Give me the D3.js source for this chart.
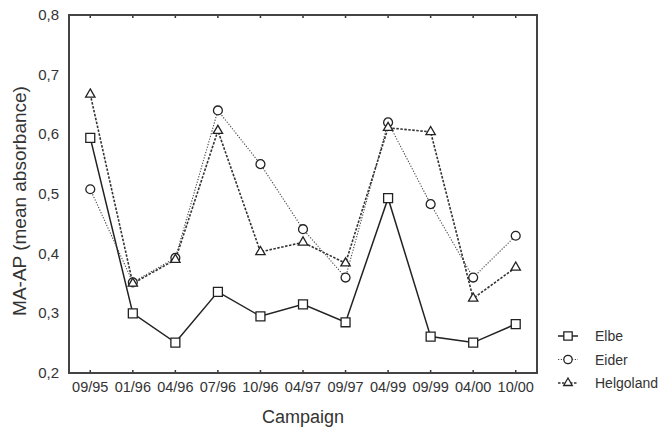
<!DOCTYPE html>
<html>
<head>
<meta charset="utf-8">
<script src="https://cdn.jsdelivr.net/npm/d3@7"></script>
<style>
  body { margin: 0; background: #fff; }
  svg text { font-family: "Liberation Sans", Arial, sans-serif; fill: #333; }
</style>
</head>
<body>
<svg id="canvas" width="659" height="430"></svg>
<script>
var campaigns = ['09/95', '01/96', '04/96', '07/96', '10/96', '04/97', '09/97', '04/99', '09/99', '04/00', '10/00'];
var elbe      = [0.594, 0.300, 0.251, 0.336, 0.295, 0.315, 0.285, 0.493, 0.261, 0.251, 0.282];
var eider     = [0.508, 0.352, 0.393, 0.640, 0.550, 0.441, 0.360, 0.620, 0.483, 0.360, 0.430];
var helgoland = [0.667, 0.350, 0.390, 0.606, 0.403, 0.419, 0.384, 0.611, 0.604, 0.325, 0.377];
var yTicks = [0.2, 0.3, 0.4, 0.5, 0.6, 0.7, 0.8];

var series = [
  {name: 'Elbe', values: elbe, symbol: d3.symbolSquare, dash: null, width: 1.5, color: '#222'},
  {name: 'Eider', values: eider, symbol: d3.symbolCircle, dash: '1.2,1.6', width: 1.1, color: '#444'},
  {name: 'Helgoland', values: helgoland, symbol: d3.symbolTriangle, dash: '2.5,1.5', width: 1.6, color: '#333'}
];

var svg = d3.select('svg#canvas');
var plotLeft = 69, plotRight = 537, plotTop = 15, plotBottom = 373;

var x = d3.scalePoint().domain(campaigns).range([plotLeft, plotRight]).padding(0.5);
var y = d3.scaleLinear().domain([0.2, 0.8]).range([plotBottom, plotTop]);

// ticks (small, inside the frame)
svg.append('g').selectAll('line')
  .data(campaigns).enter().append('line')
  .attr('x1', function(d) { return x(d); }).attr('x2', function(d) { return x(d); })
  .attr('y1', plotBottom).attr('y2', plotBottom - 3)
  .attr('stroke', '#333').attr('stroke-width', 1.5);
svg.append('g').selectAll('line')
  .data(campaigns).enter().append('line')
  .attr('x1', function(d) { return x(d); }).attr('x2', function(d) { return x(d); })
  .attr('y1', plotTop).attr('y2', plotTop + 3)
  .attr('stroke', '#333').attr('stroke-width', 1.5);

// frame
svg.append('rect')
  .attr('x', plotLeft).attr('y', plotTop)
  .attr('width', plotRight - plotLeft).attr('height', plotBottom - plotTop)
  .attr('fill', 'none').attr('stroke', '#444').attr('stroke-width', 2);

// y tick labels
svg.append('g').selectAll('text')
  .data(yTicks).enter().append('text')
  .attr('x', 59).attr('y', function(d) { return y(d) + 5; })
  .attr('text-anchor', 'end').attr('font-size', 15)
  .text(function(d) { return d3.format('.1f')(d).replace('.', ','); });

// x tick labels
svg.append('g').selectAll('text')
  .data(campaigns).enter().append('text')
  .attr('x', function(d) { return x(d); }).attr('y', 392)
  .attr('text-anchor', 'middle').attr('font-size', 14.5)
  .text(function(d) { return d; });

svg.append('text')
  .attr('x', 303).attr('y', 423)
  .attr('text-anchor', 'middle').attr('font-size', 18)
  .text('Campaign');

svg.append('text')
  .attr('transform', 'translate(26,201) rotate(-90)')
  .attr('text-anchor', 'middle').attr('font-size', 19)
  .text('MA-AP (mean absorbance)');

var line = d3.line()
  .x(function(d, i) { return x(campaigns[i]); })
  .y(function(d) { return y(d); });

series.forEach(function(s) {
  svg.append('path')
    .datum(s.values)
    .attr('d', line)
    .attr('fill', 'none')
    .attr('stroke', s.color)
    .attr('stroke-width', s.width)
    .attr('stroke-dasharray', s.dash);
});

series.forEach(function(s) {
  var sym = d3.symbol().type(s.symbol).size(s.symbol === d3.symbolTriangle ? 38 : (s.symbol === d3.symbolCircle ? 62 : 80));
  svg.append('g').selectAll('path')
    .data(s.values).enter().append('path')
    .attr('d', sym)
    .attr('transform', function(d, i) { return 'translate(' + x(campaigns[i]) + ',' + y(d) + ')'; })
    .attr('fill', '#fff').attr('stroke', '#222').attr('stroke-width', 1.3);
});

// legend
var legend = svg.append('g').selectAll('g')
  .data(series).enter().append('g')
  .attr('transform', function(d, i) { return 'translate(568,' + (336 + i * 23.5) + ')'; });
legend.append('line')
  .attr('x1', -10).attr('x2', 10)
  .attr('stroke', function(d) { return d.color; })
  .attr('stroke-width', function(d) { return d.width; })
  .attr('stroke-dasharray', function(d) { return d.dash; });
legend.append('path')
  .attr('d', function(d) {
    return d3.symbol().type(d.symbol).size(d.symbol === d3.symbolTriangle ? 32 : (d.symbol === d3.symbolCircle ? 55 : 70))();
  })
  .attr('fill', '#fff').attr('stroke', '#222').attr('stroke-width', 1.3);
legend.append('text')
  .attr('x', 27).attr('y', 5).attr('font-size', 14)
  .text(function(d) { return d.name; });
</script>
</body>
</html>
